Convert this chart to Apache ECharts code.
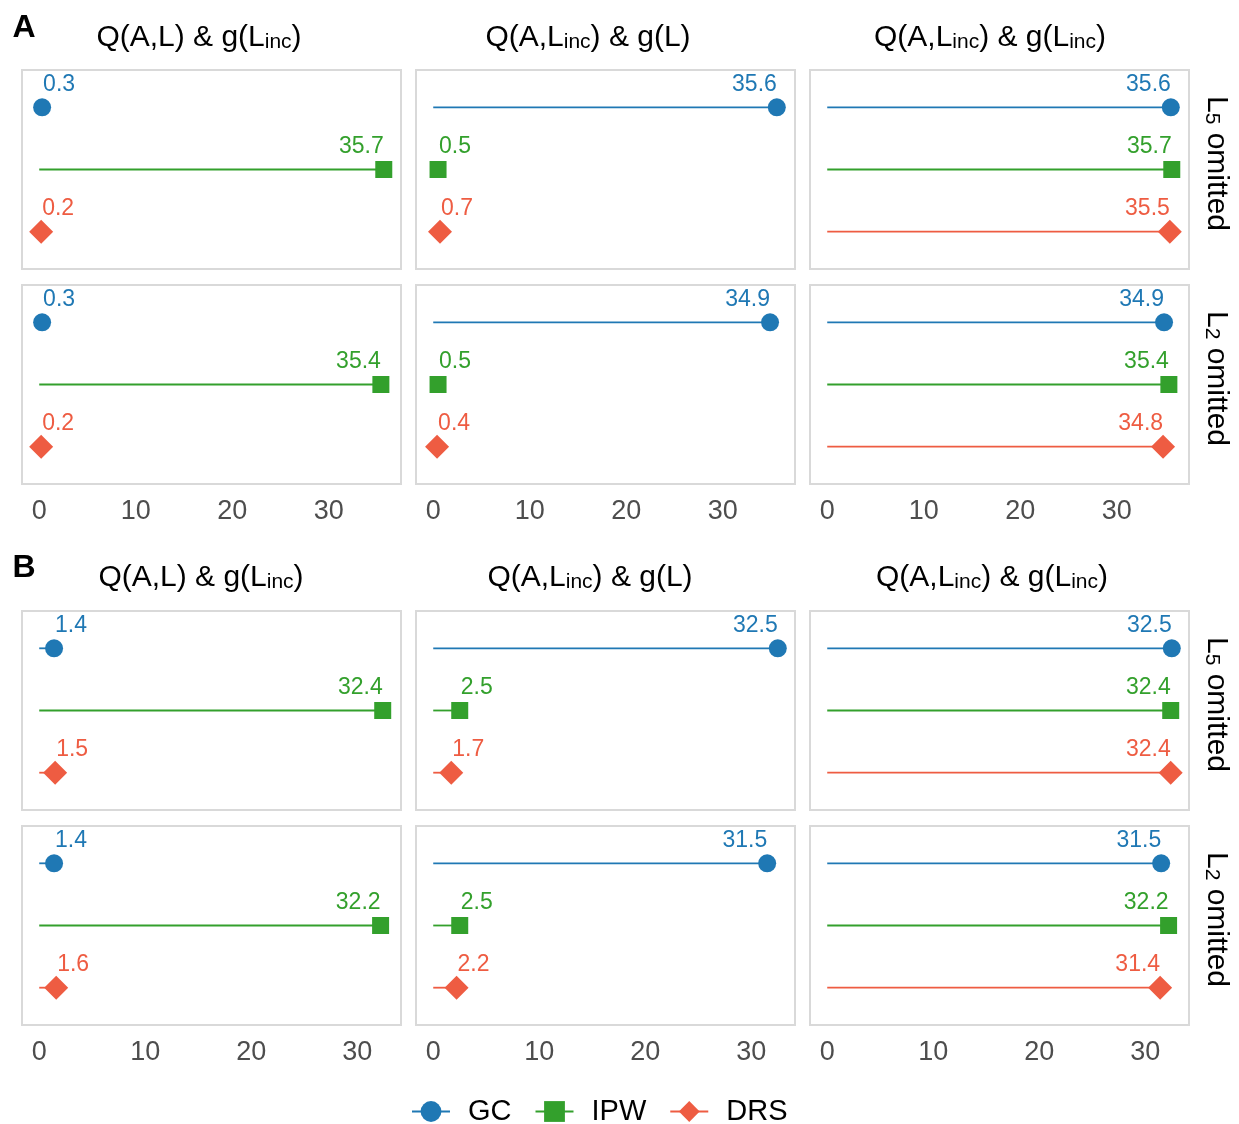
<!DOCTYPE html>
<html>
<head>
<meta charset="utf-8">
<script src="https://cdn.jsdelivr.net/npm/echarts@6/dist/echarts.min.js"></script>
<style>
  html, body { margin: 0; padding: 0; background: #fff; }
  #chart { width: 1239px; height: 1124px; }
</style>
</head>
<body>
<div id="chart"></div>
<script>
// values per panel, order: L5 row (col1..col3), then L2 row (col1..col3)
var gcA  = [0.3, 35.6, 35.6, 0.3, 34.9, 34.9];
var ipwA = [35.7, 0.5, 35.7, 35.4, 0.5, 35.4];
var drsA = [0.2, 0.7, 35.5, 0.2, 0.4, 34.8];
var gcB  = [1.4, 32.5, 32.5, 1.4, 31.5, 31.5];
var ipwB = [32.4, 2.5, 32.4, 32.2, 2.5, 32.2];
var drsB = [1.5, 1.7, 32.4, 1.6, 2.2, 31.4];

var methods = ['GC', 'IPW', 'DRS'];
var sectionLabels = ['A', 'B'];
var colTitles = [
    '{t|Q(A,L) & g(L}{s|inc}{t|)}',
    '{t|Q(A,L}{s|inc}{t|) & g(L)}',
    '{t|Q(A,L}{s|inc}{t|) & g(L}{s|inc}{t|)}'
];
var rowLabels = ['{t|L}{s|5}{t| omitted}', '{t|L}{s|2}{t| omitted}'];
var xTicks = [0, 10, 20, 30];

var colors = ['#1F78B4', '#33A02C', '#EE5C42'];
var symbols = ['circle', 'rect', 'diamond'];
var symbolSizes = [18, 17, 24];
var font = 'Liberation Sans, Arial, sans-serif';

var sectionData = [[gcA, ipwA, drsA], [gcB, ipwB, drsB]];
var xRange = [[-1.785, 37.485], [-1.625, 34.125]];

var colLeft = [22, 416, 810];
var panelW = 379, panelH = 199;
var rowTop = [[70, 285], [611, 826]];
var titleX = [[199, 588, 990], [201, 590, 992]];
var titleY = [38, 578];

var echart = echarts.init(document.getElementById('chart'));

var grids = [], xAxes = [], yAxes = [], series = [], graphics = [];
// both tokens sit on the line bottom so "inc" shares the baseline
var richStyle = {
    t: { fontSize: 30, fontFamily: font, color: '#000', lineHeight: 30, verticalAlign: 'bottom' },
    s: { fontSize: 21, fontFamily: font, color: '#000', lineHeight: 30, verticalAlign: 'bottom' }
};

for (var s = 0; s < 2; s++) {
    for (var r = 0; r < 2; r++) {
        for (var c = 0; c < 3; c++) {
            var g = grids.length;
            grids.push({
                left: colLeft[c], top: rowTop[s][r], width: panelW, height: panelH,
                show: true, borderColor: '#d9d9d9', borderWidth: 2,
                outerBoundsMode: 'none'
            });
            xAxes.push({
                type: 'value', gridIndex: g,
                min: xRange[s][0], max: xRange[s][1],
                axisLine: { show: false }, axisTick: { show: false }, splitLine: { show: false },
                axisLabel: {
                    show: r === 1, customValues: xTicks, margin: 14,
                    color: '#4d4d4d', fontSize: 27, fontFamily: font
                }
            });
            yAxes.push({ type: 'value', gridIndex: g, min: 0.4, max: 3.6, show: false });
            for (var m = 0; m < 3; m++) {
                var v = sectionData[s][m][r * 3 + c];
                var yPos = 3 - m;
                series.push({
                    name: methods[m], type: 'line', xAxisIndex: g, yAxisIndex: g,
                    symbol: symbols[m], symbolSize: symbolSizes[m],
                    color: colors[m],
                    itemStyle: { color: colors[m] },
                    lineStyle: { color: colors[m], width: 1.8 },
                    animation: false, silent: true,
                    data: [
                        { value: [0, yPos], symbol: 'none', label: { show: false } },
                        {
                            value: [v, yPos],
                            label: {
                                show: true, position: 'inside',
                                align: v > 10 ? 'right' : 'left', verticalAlign: 'middle',
                                offset: [v > 10 ? 0 : 1, -23],
                                formatter: String(v.toFixed(1)),
                                color: colors[m], fontSize: 23, fontFamily: font
                            }
                        }
                    ]
                });
            }
        }
    }
    // section letter
    graphics.push({
        type: 'text', x: 24, y: titleY[s] - 10,
        style: { text: sectionLabels[s], fontSize: 32, fontWeight: 'bold', fontFamily: font,
                 fill: '#000', align: 'center', verticalAlign: 'middle' }
    });
    // column titles
    for (var c2 = 0; c2 < 3; c2++) {
        graphics.push({
            type: 'text', x: titleX[s][c2], y: titleY[s],
            style: { text: colTitles[c2], rich: richStyle, align: 'center', verticalAlign: 'middle' }
        });
    }
    // row strip labels
    for (var r2 = 0; r2 < 2; r2++) {
        graphics.push({
            type: 'text', x: 1216, y: rowTop[s][r2] + panelH / 2 - 6, rotation: -Math.PI / 2,
            style: { text: rowLabels[r2], rich: richStyle, align: 'center', verticalAlign: 'middle' }
        });
    }
}

var option = {
    backgroundColor: '#fff',
    grid: grids,
    xAxis: xAxes,
    yAxis: yAxes,
    series: series,
    legend: {
        data: methods,
        left: 406, top: 1092,
        itemWidth: 38, itemHeight: 26, itemGap: 23,
        textStyle: { fontSize: 29, fontFamily: font, color: '#000', padding: [0, 0, 0, 13] }
    },
    graphic: graphics
};
echart.setOption(option);
</script>
</body>
</html>
